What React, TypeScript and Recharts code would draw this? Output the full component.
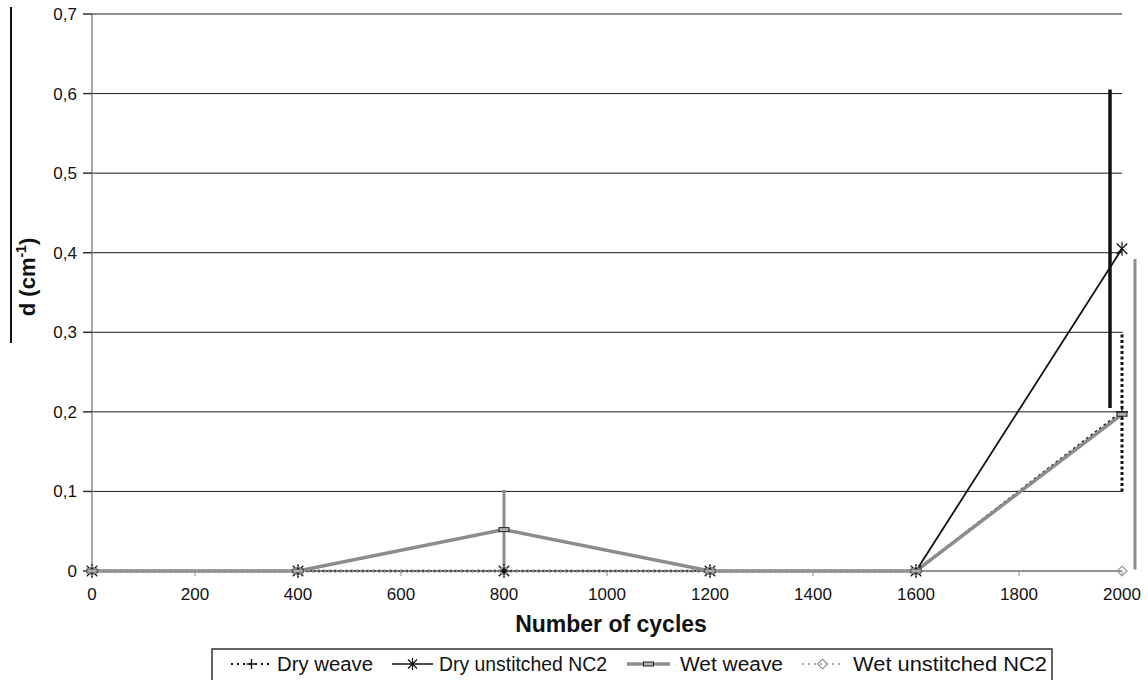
import { LineChart, Line, XAxis, YAxis, CartesianGrid, ErrorBar } from 'recharts';

const cycles = [0, 400, 800, 1200, 1600, 2000];
const dryWeave = [0, 0, 0, 0, 0, 0.2];
const dryWeaveErr = [0, 0, 0, 0, 0, 0.1];
const dryUnstitched = [0, 0, 0, 0, 0, 0.405];
const dryUnstitchedErr = [0, 0, 0, 0, 0, 0.2];
const wetWeave = [0, 0, 0.052, 0, 0, 0.197];
const wetWeaveErr = [0, 0, 0.05, 0, 0, 0.195];
const wetUnstitched = [0, 0, 0, 0, 0, 0];

const xTicks = [0, 200, 400, 600, 800, 1000, 1200, 1400, 1600, 1800, 2000];
const yTicks = [0, 0.1, 0.2, 0.3, 0.4, 0.5, 0.6, 0.7];
const legendNames = ['Dry weave', 'Dry unstitched NC2', 'Wet weave', 'Wet unstitched NC2'];

const last = cycles.length - 1;
const rows = cycles.map((c, i) => ({
  cycles: c,
  dryWeave: dryWeave[i],
  dryWeaveErr: dryWeaveErr[i],
  dryUnstitched: dryUnstitched[i],
  dryUnstitchedErr: dryUnstitchedErr[i],
  wetWeave: wetWeave[i],
  wetWeaveErrMid: i === last ? 0 : wetWeaveErr[i],
  wetWeaveErrEnd: i === last ? wetWeaveErr[i] : 0,
  wetUnstitched: wetUnstitched[i],
}));

const FONT = '"Liberation Sans", Arial, sans-serif';
const GRAY = '#8c8c8c';

function PlusMark({ cx, cy, r = 6 }: { cx: number; cy: number; r?: number }) {
  return (
    <g>
      <line x1={cx - r} x2={cx + r} y1={cy} y2={cy} stroke="#111" strokeWidth={1.4} />
      <line x1={cx} x2={cx} y1={cy - r} y2={cy + r} stroke="#111" strokeWidth={1.4} />
    </g>
  );
}

function StarMark({ cx, cy, r = 7 }: { cx: number; cy: number; r?: number }) {
  const d = r * 0.75;
  return (
    <g stroke="#111" strokeWidth={1.2}>
      <line x1={cx - d} x2={cx + d} y1={cy - d} y2={cy + d} />
      <line x1={cx - d} x2={cx + d} y1={cy + d} y2={cy - d} />
      <line x1={cx} x2={cx} y1={cy - r} y2={cy + r} />
    </g>
  );
}

function RectMark({ cx, cy }: { cx: number; cy: number }) {
  return <rect x={cx - 5} y={cy - 2} width={10} height={4} fill="#b0b0b0" stroke="#222" strokeWidth={1} />;
}

function DiamondMark({ cx, cy, r = 5 }: { cx: number; cy: number; r?: number }) {
  return (
    <path
      d={`M${cx},${cy - r}L${cx + r},${cy}L${cx},${cy + r}L${cx - r},${cy}Z`}
      fill="none"
      stroke="#999"
      strokeWidth={1.2}
    />
  );
}

const dotOf = (Mark: any) => (props: any) => {
  const { cx, cy, index } = props;
  if (cx == null || cy == null) return <g key={index} />;
  return (
    <g key={index}>
      <Mark cx={cx} cy={cy} />
    </g>
  );
};

function YLabel() {
  return (
    <text
      transform="translate(35, 277) rotate(-90)"
      textAnchor="middle"
      fontFamily={FONT}
      fontSize={22}
      fontWeight="bold"
      fill="#111"
    >
      d (cm
      <tspan fontSize={14} dy={-9}>-1</tspan>
      <tspan dy={9}>)</tspan>
    </text>
  );
}

function XLabel(props: any) {
  const vb = props.viewBox || {};
  const cx = (vb.x ?? 92) + (vb.width ?? 1030) / 2 + 4;
  return (
    <text x={cx} y={632} textAnchor="middle" fontFamily={FONT} fontSize={23} fontWeight="bold" fill="#111">
      Number of cycles
    </text>
  );
}

function ChartLegend() {
  const items = [
    { sample: [231, 272], text: 277, width: 96 },
    { sample: [392, 433], text: 439, width: 168 },
    { sample: [627, 670], text: 680, width: 103 },
    { sample: [802, 843], text: 853, width: 194 },
  ];
  const y = 664;
  return (
    <svg width={1148} height={680} style={{ position: 'absolute', left: 0, top: 0, pointerEvents: 'none' }}>
      <rect x={212} y={649} width={840} height={40} fill="#fff" stroke="#333" strokeWidth={1.5} />
      {items.map((it, i) => {
        const [a, b] = it.sample;
        const mid = (a + b) / 2;
        let sample = null;
        if (i === 0)
          sample = (
            <g>
              <line x1={a} x2={b} y1={y} y2={y} stroke="#111" strokeWidth={2} strokeDasharray="2 4" />
              <PlusMark cx={mid} cy={y} r={5} />
            </g>
          );
        if (i === 1)
          sample = (
            <g>
              <line x1={a} x2={b} y1={y} y2={y} stroke="#111" strokeWidth={1.6} />
              <StarMark cx={mid} cy={y} r={6} />
            </g>
          );
        if (i === 2)
          sample = (
            <g>
              <line x1={a} x2={b} y1={y} y2={y} stroke={GRAY} strokeWidth={3.5} />
              <RectMark cx={mid} cy={y} />
            </g>
          );
        if (i === 3)
          sample = (
            <g>
              <line x1={a} x2={b} y1={y} y2={y} stroke="#aaa" strokeWidth={2} strokeDasharray="2 4" />
              <DiamondMark cx={mid} cy={y} r={5} />
            </g>
          );
        return (
          <g key={legendNames[i]}>
            {sample}
            <text
              x={it.text}
              y={671}
              fontFamily={FONT}
              fontSize={20}
              fill="#111"
              textLength={it.width}
              lengthAdjust="spacingAndGlyphs"
            >
              {legendNames[i]}
            </text>
          </g>
        );
      })}
    </svg>
  );
}

export default function App() {
  return (
    <div style={{ position: 'absolute', left: 0, top: 0, width: 1148, height: 680, background: '#fff', fontFamily: FONT }}>
      <LineChart width={1148} height={680} data={rows} margin={{ top: 14, right: 26, bottom: 69, left: 0 }}>
        <CartesianGrid vertical={false} stroke="#1a1a1a" strokeWidth={1} />
        <XAxis
          xAxisId="a_main"
          dataKey="cycles"
          type="number"
          domain={[0, 2000]}
          ticks={xTicks}
          interval={0}
          stroke={GRAY}
          tickSize={5}
          tickMargin={12}
          height={40}
          tick={{ fill: '#111', fontSize: 17, fontFamily: FONT }}
          label={{ content: (p: any) => <XLabel {...p} /> }}
        />
        <XAxis xAxisId="b_left" dataKey="cycles" type="number" domain={[0, 2000]} hide height={0} padding={{ left: -12, right: 12 }} />
        <XAxis xAxisId="c_right" dataKey="cycles" type="number" domain={[0, 2000]} hide height={0} padding={{ left: 13, right: -13 }} />
        <YAxis
          type="number"
          domain={[0, 0.7]}
          ticks={yTicks}
          interval={0}
          width={92}
          stroke={GRAY}
          strokeWidth={1.5}
          tickSize={9}
          tickMargin={6}
          tickLine={{ stroke: '#333' }}
          tick={{ fill: '#111', fontSize: 17, fontFamily: FONT }}
          tickFormatter={(v: number) => (v === 0 ? '0' : v.toFixed(1).replace('.', ','))}
          label={{ content: () => <YLabel /> }}
        />

        <Line
          xAxisId="b_left"
          dataKey="dryUnstitched"
          stroke="none"
          dot={false}
          activeDot={false}
          legendType="none"
          isAnimationActive={false}
        >
          <ErrorBar dataKey="dryUnstitchedErr" width={0} stroke="#111" strokeWidth={3.5} />
        </Line>
        <Line
          xAxisId="c_right"
          dataKey="wetWeave"
          stroke="none"
          dot={false}
          activeDot={false}
          legendType="none"
          isAnimationActive={false}
        >
          <ErrorBar dataKey="wetWeaveErrEnd" width={0} stroke={GRAY} strokeWidth={3} />
        </Line>

        <Line
          xAxisId="a_main"
          dataKey="dryWeave"
          stroke="#111"
          strokeWidth={2.5}
          strokeDasharray="2.5 3"
          dot={dotOf(PlusMark)}
          activeDot={false}
          isAnimationActive={false}
        >
          <ErrorBar dataKey="dryWeaveErr" width={0} stroke="#111" strokeWidth={3} strokeDasharray="3 2.5" />
        </Line>
        <Line
          xAxisId="a_main"
          dataKey="dryUnstitched"
          stroke="#111"
          strokeWidth={1.8}
          dot={dotOf(StarMark)}
          activeDot={false}
          isAnimationActive={false}
        />
        <Line
          xAxisId="a_main"
          dataKey="wetWeave"
          stroke={GRAY}
          strokeWidth={3.5}
          dot={dotOf(RectMark)}
          activeDot={false}
          isAnimationActive={false}
        >
          <ErrorBar dataKey="wetWeaveErrMid" width={0} stroke={GRAY} strokeWidth={3} />
        </Line>
        <Line
          xAxisId="a_main"
          dataKey="wetUnstitched"
          stroke="#aaa"
          strokeWidth={1.5}
          strokeDasharray="2 2"
          dot={dotOf(DiamondMark)}
          activeDot={false}
          isAnimationActive={false}
        />
      </LineChart>
      <div style={{ position: 'absolute', left: 10, top: 7, width: 1.5, height: 336, background: '#111' }} />
      <ChartLegend />
    </div>
  );
}
